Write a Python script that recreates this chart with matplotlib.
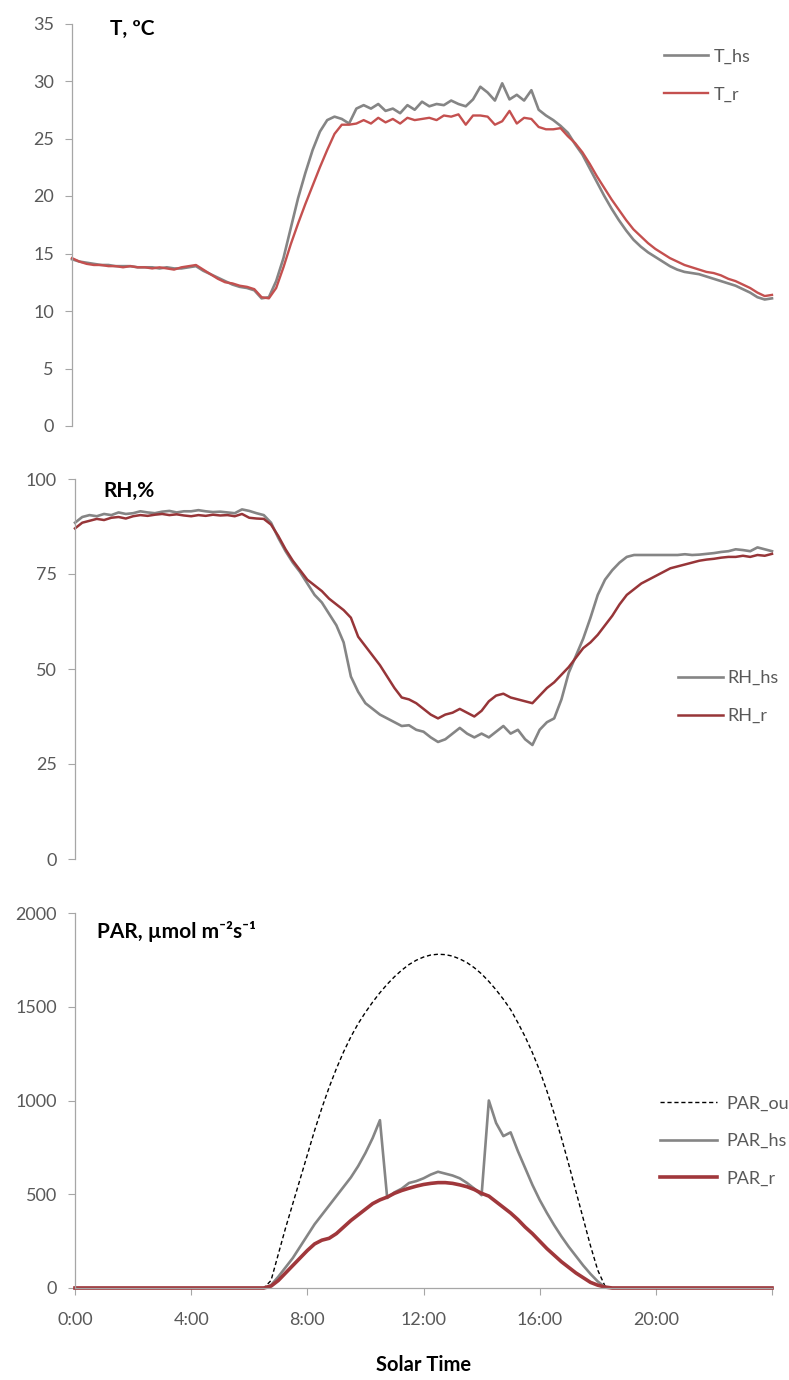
import numpy as np
import matplotlib
matplotlib.use("Agg")
import matplotlib.pyplot as plt

plt.rcParams['font.family'] = ['Lato', 'DejaVu Sans']

# solar time in hours, one reading every 15 min (0:00 .. 24:00)
hours = np.arange(0, 24.01, 0.25)

# air temperature, ºC
T_hs = [14.5, 14.3, 14.2, 14.1, 14.0, 14.0, 13.9, 13.9,
        13.9, 13.8, 13.8, 13.8, 13.7, 13.8, 13.7, 13.7,
        13.8, 13.9, 13.5, 13.2, 12.9, 12.6, 12.3, 12.1,
        12.0, 11.8, 11.1, 11.2, 12.6, 14.6, 17.2, 19.8,
        22.0, 24.0, 25.6, 26.6, 26.9, 26.7, 26.3, 27.6,
        27.9, 27.6, 28.0, 27.4, 27.6, 27.2, 27.9, 27.5,
        28.2, 27.8, 28.0, 27.9, 28.3, 28.0, 27.8, 28.4,
        29.5, 29.0, 28.3, 29.8, 28.4, 28.8, 28.3, 29.2,
        27.5, 27.0, 26.6, 26.1, 25.5, 24.5, 23.6, 22.4,
        21.2, 20.0, 18.9, 17.9, 17.0, 16.2, 15.6, 15.1,
        14.7, 14.3, 13.9, 13.6, 13.4, 13.3, 13.2, 13.0,
        12.8, 12.6, 12.4, 12.2, 11.9, 11.6, 11.2, 11.0,
        11.1]
T_r = [14.6, 14.3, 14.1, 14.0, 14.0, 13.9, 13.9, 13.8,
       13.9, 13.8, 13.8, 13.7, 13.8, 13.7, 13.6, 13.8,
       13.9, 14.0, 13.6, 13.2, 12.8, 12.5, 12.4, 12.2,
       12.1, 11.9, 11.2, 11.1, 12.0, 13.8, 15.8, 17.6,
       19.3, 20.9, 22.5, 24.0, 25.4, 26.2, 26.2, 26.3,
       26.6, 26.3, 26.8, 26.4, 26.7, 26.3, 26.8, 26.6,
       26.7, 26.8, 26.6, 27.0, 26.9, 27.1, 26.2, 27.0,
       27.0, 26.9, 26.2, 26.5, 27.4, 26.3, 26.8, 26.7,
       26.0, 25.8, 25.8, 25.9, 25.2, 24.6, 23.8, 22.8,
       21.7, 20.7, 19.7, 18.8, 17.9, 17.1, 16.5, 15.9,
       15.4, 15.0, 14.6, 14.3, 14.0, 13.8, 13.6, 13.4,
       13.3, 13.1, 12.8, 12.6, 12.3, 12.0, 11.6, 11.3,
       11.4]

# relative humidity, %
RH_hs = [88.5, 90.0, 90.5, 90.2, 90.8, 90.5, 91.2, 90.8,
         91.0, 91.5, 91.2, 91.0, 91.4, 91.6, 91.2, 91.5,
         91.5, 91.8, 91.5, 91.3, 91.4, 91.2, 91.0, 92.0,
         91.6, 91.0, 90.5, 88.5, 84.5, 81.0, 78.0, 75.5,
         72.5, 69.5, 67.5, 64.5, 61.5, 57.0, 48.0, 44.0,
         41.0, 39.5, 38.0, 37.0, 36.0, 35.0, 35.2, 34.0,
         33.5, 32.0, 30.8, 31.5, 33.0, 34.5, 33.0, 32.0,
         33.0, 32.0, 33.5, 35.0, 33.0, 34.0, 31.5, 30.0,
         34.0, 36.0, 37.0, 42.0, 49.0, 53.5, 58.0, 63.5,
         69.5, 73.5, 76.0, 78.0, 79.5, 80.0, 80.0, 80.0,
         80.0, 80.0, 80.0, 80.0, 80.2, 80.0, 80.1, 80.3,
         80.5, 80.8, 81.0, 81.5, 81.3, 81.0, 82.0, 81.5,
         81.0]
RH_r = [87.0, 88.5, 89.0, 89.5, 89.2, 89.8, 90.0, 89.6,
        90.2, 90.5, 90.3, 90.6, 90.8, 90.5, 90.7, 90.4,
        90.2, 90.5, 90.3, 90.6, 90.4, 90.5, 90.2, 90.8,
        89.8, 89.6, 89.5, 88.0, 85.0, 81.5, 78.5, 76.0,
        73.5, 72.0, 70.5, 68.5, 67.0, 65.5, 63.5, 58.5,
        56.0, 53.5, 51.0, 48.0, 45.0, 42.5, 42.0, 41.0,
        39.5, 38.0, 37.0, 38.0, 38.5, 39.5, 38.5, 37.5,
        39.0, 41.5, 43.0, 43.5, 42.5, 42.0, 41.5, 41.0,
        43.0, 45.0, 46.5, 48.5, 50.5, 53.0, 55.5, 57.0,
        59.0, 61.5, 64.0, 67.0, 69.5, 71.0, 72.5, 73.5,
        74.5, 75.5, 76.5, 77.0, 77.5, 78.0, 78.5, 78.8,
        79.0, 79.3, 79.5, 79.5, 79.8, 79.5, 80.0, 79.8,
        80.3]

# photosynthetically active radiation, umol m-2 s-1
PAR_out = [0, 0, 0, 0, 0, 0, 0, 0,
           0, 0, 0, 0, 0, 0, 0, 0,
           0, 0, 0, 0, 0, 0, 0, 0,
           0, 0, 0, 40, 180, 320, 450, 580,
           710, 840, 960, 1070, 1170, 1260, 1340, 1410,
           1470, 1525, 1575, 1620, 1660, 1695, 1725, 1748,
           1765, 1776, 1780, 1778, 1770, 1755, 1735, 1708,
           1675, 1635, 1590, 1540, 1485, 1415, 1340, 1255,
           1160, 1050, 930, 800, 660, 515, 370, 225,
           95, 10, 0, 0, 0, 0, 0, 0,
           0, 0, 0, 0, 0, 0, 0, 0,
           0, 0, 0, 0, 0, 0, 0, 0,
           0]
PAR_hs = [0, 0, 0, 0, 0, 0, 0, 0,
          0, 0, 0, 0, 0, 0, 0, 0,
          0, 0, 0, 0, 0, 0, 0, 0,
          0, 0, 0, 15, 60, 110, 160, 220,
          280, 340, 390, 440, 490, 540, 590, 650,
          720, 800, 895, 480, 510, 530, 560, 570,
          585, 605, 620, 610, 600, 585, 560, 530,
          495, 1000, 880, 810, 830, 730, 640, 550,
          470, 400, 335, 275, 220, 170, 120, 75,
          35, 5, 0, 0, 0, 0, 0, 0,
          0, 0, 0, 0, 0, 0, 0, 0,
          0, 0, 0, 0, 0, 0, 0, 0,
          0]
PAR_r = [0, 0, 0, 0, 0, 0, 0, 0,
         0, 0, 0, 0, 0, 0, 0, 0,
         0, 0, 0, 0, 0, 0, 0, 0,
         0, 0, 0, 10, 40, 80, 120, 160,
         200, 235, 255, 265, 290, 325, 360, 390,
         420, 450, 470, 485, 505, 520, 532, 543,
         552, 558, 562, 562, 558, 550, 540, 525,
         505, 490, 460, 430, 400, 365, 325, 290,
         250, 210, 175, 140, 110, 80, 55, 30,
         15, 5, 0, 0, 0, 0, 0, 0,
         0, 0, 0, 0, 0, 0, 0, 0,
         0, 0, 0, 0, 0, 0, 0, 0,
         0]

time_ticks = [0, 4, 8, 12, 16, 20, 24]
time_labels = ['0:00', '4:00', '8:00', '12:00', '16:00', '20:00', '']

GREY = '#858585'
AXIS = '#a6a6a6'
TXT = '#595959'

W, H = 789, 1380
fig = plt.figure(figsize=(W / 100, H / 100), dpi=100)


def px_axes(x0, y0, x1, y1):
    # axes box given in pixel corners (top-left origin)
    return fig.add_axes([x0 / W, 1 - y1 / H, (x1 - x0) / W, (y1 - y0) / H])


def style(ax, ymax, ystep, xaxis=False):
    ax.set_xlim(0, 24)
    ax.set_ylim(0, ymax)
    ax.set_yticks(np.arange(0, ymax + 1, ystep))
    for s in ['top', 'right']:
        ax.spines[s].set_visible(False)
    ax.spines['left'].set_color(AXIS)
    ax.spines['left'].set_linewidth(0.9)
    ax.tick_params(axis='y', direction='out', length=5, width=0.8,
                   color=AXIS, labelcolor=TXT, labelsize=13, pad=8)
    if xaxis:
        ax.spines['bottom'].set_color(AXIS)
        ax.spines['bottom'].set_linewidth(0.9)
        ax.set_xticks(time_ticks)
        ax.set_xticklabels(time_labels)
        ax.tick_params(axis='x', direction='out', length=5, width=0.8,
                       color=AXIS, labelcolor=TXT, labelsize=13, pad=12)
    else:
        ax.spines['bottom'].set_visible(False)
        ax.set_xticks([])


def legend(ax, x, y, hl, tp):
    # legend sits against the right edge, long names run off the figure
    ax.legend(loc='center left', bbox_to_anchor=(x, y), frameon=False,
              fontsize=13, handlelength=hl, handletextpad=tp,
              labelspacing=1.2, borderpad=0, borderaxespad=0, labelcolor=TXT)


# --- temperature ---
ax1 = px_axes(72, 23.5, 772, 426)
style(ax1, 35, 5)
ax1.plot(hours, T_hs, color=GREY, lw=1.9, label='T_hs', clip_on=False)
ax1.plot(hours, T_r, color='#c4504f', lw=1.7, label='T_r', clip_on=False)
legend(ax1, (664 - 72) / 700, (426 - 75.5) / 402.5, 2.45, 0.28)
fig.text(110 / W, 1 - 29 / H, 'T, ºC', fontsize=15, fontweight='bold',
         ha='left', va='center')

# --- relative humidity ---
ax2 = px_axes(75, 479, 772, 859)
style(ax2, 100, 25)
ax2.plot(hours, RH_hs, color=GREY, lw=1.9, label='RH_hs', clip_on=False)
ax2.plot(hours, RH_r, color='#973538', lw=1.8, label='RH_r', clip_on=False)
legend(ax2, (678 - 75) / 697, (859 - 697) / 380, 2.5, 0.22)
fig.text(103 / W, 1 - 491 / H, 'RH,%', fontsize=15, fontweight='bold',
         ha='left', va='center')

# --- PAR ---
ax3 = px_axes(75, 913, 772, 1288)
style(ax3, 2000, 500, xaxis=True)
ax3.plot(hours, PAR_out, color='black', lw=1.0, ls=(0, (3, 2)), label='PAR_out', clip_on=False)
ax3.plot(hours, PAR_hs, color=GREY, lw=1.9, label='PAR_hs', clip_on=False)
ax3.plot(hours, PAR_r, color='#a0373b', lw=2.6, label='PAR_r', clip_on=False)
legend(ax3, (660 - 75) / 697, (1288 - 1141) / 375, 3.15, 0.55)
fig.text(97 / W, 1 - 932 / H, 'PAR, µmol m⁻²s⁻¹', fontsize=15,
         fontweight='bold', ha='left', va='center')
ax3.set_xlabel('Solar Time', fontsize=14.5, fontweight='bold', labelpad=20)

fig.savefig('out.png', dpi=100)
